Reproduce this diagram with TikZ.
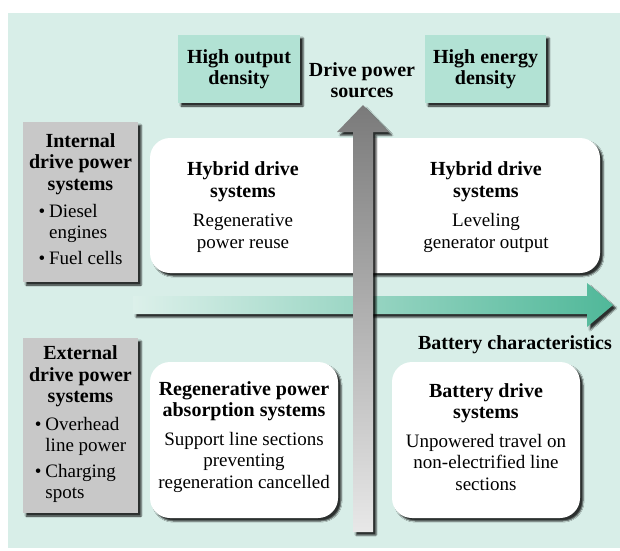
\documentclass[tikz,border=0pt]{standalone}
\usepackage{fontspec}
\setmainfont{Liberation Serif}
\usetikzlibrary{shadows.blur}

\definecolor{panelbg}{RGB}{216,238,232}
\definecolor{mintfill}{RGB}{178,226,212}
\definecolor{greyfill}{RGB}{200,200,200}
\definecolor{arrowgreen}{RGB}{80,184,153}
\definecolor{arrowpale}{RGB}{220,240,234}
\definecolor{arrowdark}{RGB}{122,122,122}
\definecolor{arrowlight}{RGB}{232,232,232}

% heading type: a touch larger than the body text
\newcommand\hd[1]{{\fontsize{20}{22}\selectfont\bfseries #1}}

\tikzset{
  softshadow/.style={blur shadow={shadow xshift=3pt, shadow yshift=-3pt,
      shadow blur radius=1.2pt, shadow blur steps=4, shadow opacity=80}},
  label text/.style={font=\fontsize{19}{21.5}\selectfont, align=center, inner sep=0pt},
  mintbox/.style={fill=mintfill, softshadow, label text},
  greybox/.style={fill=greyfill, softshadow, label text},
  whitebox/.style={fill=white, rounded corners=20pt, softshadow, inner sep=0pt},
}

\begin{document}
\begin{tikzpicture}[x=1pt, y=-1pt]
\useasboundingbox (0,0) rectangle (620,550);

% backdrop
\fill[panelbg] (8,13) rectangle (620,548);

% top category boxes
\node[mintbox, minimum width=122pt, minimum height=68pt] (hod) at (239,69)
  {\hd{High output}\\\hd{density}};
\node[mintbox, minimum width=121pt, minimum height=68pt] (hed) at (485.5,69)
  {\hd{High energy}\\\hd{density}};

% left category boxes
\node[greybox, minimum width=115pt, minimum height=160pt] (intl) at (80.5,202)
  {\hd{Internal}\\\hd{drive power}\\\hd{systems}\\[7pt]
   \begin{tabular}{@{}l@{\hspace{4pt}}l@{}}
   \textbullet & Diesel\\
               & engines\\[4pt]
   \textbullet & Fuel cells
   \end{tabular}};
\node[greybox, minimum width=115pt, minimum height=175pt] (extl) at (80.5,425.5)
  {\hd{External}\\\hd{drive power}\\\hd{systems}\\[7pt]
   \begin{tabular}{@{}l@{\hspace{4pt}}l@{}}
   \textbullet & Overhead\\
               & line power\\[4pt]
   \textbullet & Charging\\
               & spots
   \end{tabular}};

% quadrant boxes
\node[whitebox, minimum width=450pt, minimum height=135pt] (upper) at (375,205.5) {};
\node[whitebox, minimum width=188pt, minimum height=156pt] (lowleft) at (244,440) {};
\node[whitebox, minimum width=188pt, minimum height=156pt] (lowright) at (486,440) {};

\node[label text] (hybl) at (243,207)
  {\hd{Hybrid drive}\\\hd{systems}\\[8pt]Regenerative\\power reuse};
\node[label text] (hybr) at (486,207)
  {\hd{Hybrid drive}\\\hd{systems}\\[8pt]Leveling\\generator output};
\node[label text] (regen) at (244,437)
  {\hd{Regenerative power}\\\hd{absorption systems}\\[7pt]Support line sections\\preventing\\regeneration cancelled};
\node[label text] (batt) at (486,437)
  {\hd{Battery drive}\\\hd{systems}\\[7pt]Unpowered travel on\\non-electrified line\\sections};

% horizontal axis arrow
\path[softshadow, left color=arrowpale, right color=arrowgreen]
  (133,296) -- (587,296) -- (587,283) -- (613,305) -- (587,327) -- (587,314)
  -- (133,314) -- cycle;

% vertical axis arrow
\path[softshadow, top color=arrowdark, bottom color=arrowlight]
  (353,532) -- (353,132) -- (337,132) -- (363,105) -- (389,132) -- (373,132)
  -- (373,532) -- cycle;

% axis captions
\node[label text] (dps) at (362,80) {\hd{Drive power}\\\hd{sources}};
\node[label text, anchor=base east] (bchar) at (612,349) {\hd{Battery characteristics}};
\end{tikzpicture}
\end{document}
